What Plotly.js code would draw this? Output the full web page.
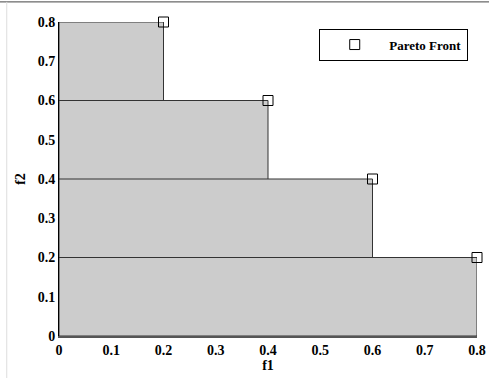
<!DOCTYPE html>
<html>
<head>
<meta charset="utf-8">
<script src="https://cdn.plot.ly/plotly-3.0.1.min.js"></script>
<style>
html,body{margin:0;padding:0;background:#fff;}
#chart{width:489px;height:378px;}
</style>
</head>
<body>
<div id="chart"></div>
<script>
// Pareto front points
var f1 = [0.2, 0.4, 0.6, 0.8];
var f2 = [0.8, 0.6, 0.4, 0.2];
var seriesName = "Pareto Front";
var xTicks = [0, 0.1, 0.2, 0.3, 0.4, 0.5, 0.6, 0.7, 0.8];
var yTicks = [0, 0.1, 0.2, 0.3, 0.4, 0.5, 0.6, 0.7, 0.8];

var traces = [];
// dominated region rectangles, one per front point
for (var i = 0; i < f1.length; i++) {
  traces.push({
    type: 'scatter', mode: 'lines',
    x: [0, f1[i], f1[i], 0, 0],
    y: [0, 0, f2[i], f2[i], 0],
    fill: 'toself', fillcolor: '#cccccc',
    line: {color: '#333333', width: 1},
    showlegend: false, hoverinfo: 'skip'
  });
}
traces.push({
  type: 'scatter', mode: 'markers',
  x: f1, y: f2, name: seriesName,
  marker: {symbol: 'square-open', size: 10, color: '#000', line: {width: 1}},
  cliponaxis: false
});

var font = {family: '"Liberation Serif", "Times New Roman", serif', size: 14, color: '#000', weight: 'bold'};

var layout = {
  width: 489, height: 378,
  margin: {l: 59, r: 12, t: 22, b: 42},
  paper_bgcolor: '#fff', plot_bgcolor: '#fff',
  font: font,
  showlegend: true,
  legend: {
    x: 0.979, xanchor: 'right', y: 0.979, yanchor: 'top',
    bordercolor: '#000', borderwidth: 1, bgcolor: '#fff',
    font: {family: font.family, size: 13, color: '#000', weight: 'bold'},
    itemwidth: 59
  },
  xaxis: {
    range: [0, 0.8], tickvals: xTicks, ticktext: xTicks.map(String),
    showgrid: false, zeroline: false, showline: true, linecolor: '#555', linewidth: 2,
    ticks: '', title: {text: 'f1', font: font, standoff: 3}, tickfont: font
  },
  yaxis: {
    range: [0, 0.8], tickvals: yTicks, ticktext: yTicks.map(String),
    showgrid: false, zeroline: false, showline: true, linecolor: '#000', linewidth: 1,
    ticks: '', title: {text: 'f2', font: font, standoff: 8}, tickfont: font
  },
  shapes: [
    {type: 'line', xref: 'paper', yref: 'paper', x0: -0.15, x1: 1.05, y0: 1.064, y1: 1.064, line: {color: '#444', width: 1}},
    {type: 'line', xref: 'paper', yref: 'paper', x0: -0.125, x1: -0.125, y0: -0.2, y1: 1.064, line: {color: '#ddd', width: 1}}
  ]
};

Plotly.newPlot('chart', traces, layout, {displayModeBar: false, staticPlot: true});
</script>
</body>
</html>
